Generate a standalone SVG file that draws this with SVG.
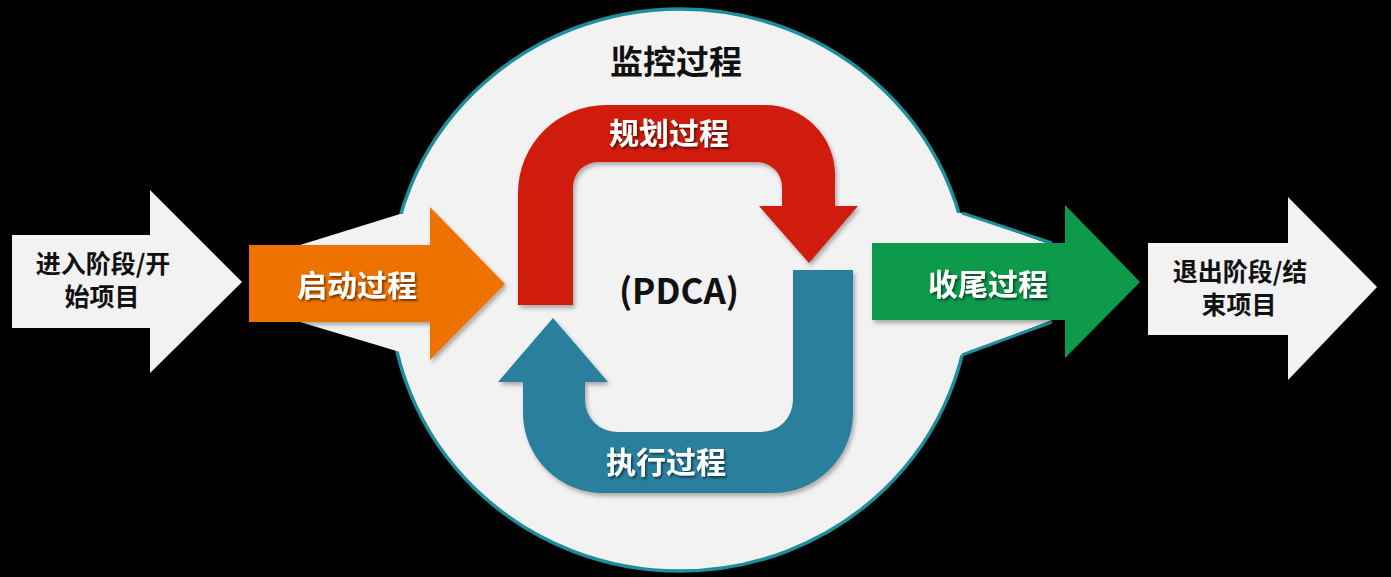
<svg xmlns="http://www.w3.org/2000/svg" width="1391" height="577" viewBox="0 0 1391 577">
  <defs>
    <filter id="sh" x="-10%" y="-10%" width="130%" height="130%">
      <feDropShadow dx="2" dy="3" stdDeviation="2" flood-color="#000" flood-opacity="0.3"/>
    </filter>
    <filter id="tsh" x="-10%" y="-20%" width="130%" height="150%">
      <feDropShadow dx="1.5" dy="2" stdDeviation="1" flood-color="#000" flood-opacity="0.55"/>
    </filter>
    <style>
      .lbl { font-family: "Noto Sans CJK SC", "Noto Sans", sans-serif; font-weight: bold; text-anchor: middle; }
      .wt { fill: #ffffff; font-size: 30px; filter: url(#tsh); }
      .dk { fill: #111111; }
      .light { fill: #F2F2F2; }
      .edge { fill: none; stroke: #1D8E9C; stroke-width: 3; }
    </style>
  </defs>
  <rect x="0" y="0" width="1391" height="577" fill="#000000"/>

  <g id="monitor">
    <ellipse cx="680" cy="290" rx="290" ry="281" class="light" stroke="#1D8E9C" stroke-width="3.5"/>
    <polygon class="light" points="300,245 400,214 420,214 420,352 400,352 300,322"/>
    <polygon class="light" points="1052,245 962,213 930,213 930,355 962,355 1052,320"/>
    <polyline class="edge" points="962,213 1052,243"/>
    <polyline class="edge" points="962,355 1052,322"/>
    <text class="lbl dk" x="676" y="74" font-size="33">监控过程</text>
  </g>

  <g id="enter">
    <polygon class="light" filter="url(#sh)" points="12,235 150,235 150,190 242,282 150,373 150,328 12,328"/>
    <text class="lbl dk" x="103" y="273" font-size="25">进入阶段/开</text>
    <text class="lbl dk" x="102" y="306" font-size="25">始项目</text>
  </g>

  <g id="initiate">
    <polygon fill="#EE7203" filter="url(#sh)" points="249,245 430,245 430,207 505,284 430,360 430,322 249,322"/>
    <text class="lbl wt" x="357" y="296">启动过程</text>
  </g>

  <g id="planning">
    <path fill="#D01A0A" filter="url(#sh)" d="M518,305 L518,193 A88,88 0 0 1 606,105 L765,105 A70,70 0 0 1 835,175 L835,206 L858,206 L809,263 L759,206 L782,206 L782,187 A25,25 0 0 0 757,162 L598,162 A25,25 0 0 0 573,187 L573,305 Z"/>
    <text class="lbl wt" x="669" y="144">规划过程</text>
  </g>

  <g id="executing">
    <path fill="#2C7F9D" filter="url(#sh)" d="M793,270 L853,270 L853,413 A80,80 0 0 1 773,493 L603,493 A80,80 0 0 1 523,413 L523,382 L498,382 L553,318 L608,382 L585,382 L585,400 A32,32 0 0 0 617,432 L761,432 A32,32 0 0 0 793,400 Z"/>
    <text class="lbl wt" x="666" y="473">执行过程</text>
  </g>

  <g id="pdca">
    <text class="lbl dk" x="679" y="304" font-size="35" font-family="Noto Sans, sans-serif">(PDCA)</text>
  </g>

  <g id="closing">
    <polygon fill="#0B9A4B" filter="url(#sh)" points="872,243 1065,243 1065,205 1140,282 1065,358 1065,320 872,320"/>
    <text class="lbl wt" x="988" y="295">收尾过程</text>
  </g>

  <g id="exit">
    <polygon class="light" filter="url(#sh)" points="1148,243 1288,243 1288,197 1377,287 1288,380 1288,335 1148,335"/>
    <text class="lbl dk" x="1240" y="281" font-size="25">退出阶段/结</text>
    <text class="lbl dk" x="1239" y="314" font-size="25">束项目</text>
  </g>

  <g id="connectors"></g>
</svg>
